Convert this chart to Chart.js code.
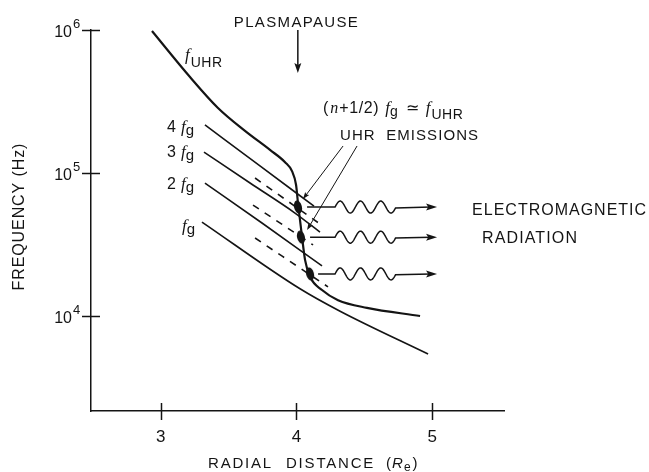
<!DOCTYPE html>
<html><head><meta charset="utf-8">
<script src="https://cdn.jsdelivr.net/npm/chart.js@4.4.0/dist/chart.umd.min.js"></script>
<style>html,body{margin:0;padding:0;background:#fff;}#wrap{width:649px;height:472px;}</style>
</head><body><div id="wrap"><canvas id="c" width="649" height="472"></canvas></div>
<script>
// ---------------- data ----------------
const xTicks = [3, 4, 5];
const yTicks = [1e4, 1e5, 1e6];
const yExpLabels = ['4', '5', '6'];

// upper hybrid resonance frequency f_UHR
const fUHR_x = [2.936, 3.216, 3.422, 3.621, 3.805, 3.916, 3.967, 3.997, 4.011, 4.041, 4.063, 4.100, 4.188, 4.306, 4.519, 4.910];
const fUHR_y = [984000, 469000, 285000, 197000, 145000, 119000, 103000, 82400, 61700, 35600, 24700, 18800, 15200, 12900, 11400, 10000];

// gyrofrequency harmonics
const fg1_x = [3.304, 4.026, 4.321, 4.969];
const fg1_y = [45400, 15500, 10800, 5420];
const fg2_x = [3.326, 3.746, 4.188];
const fg2_y = [85100, 44700, 22400];
const fg3_x = [3.319, 3.658, 3.989, 4.173];
const fg3_y = [140000, 85100, 52500, 38600];
const fg4_x = [3.326, 3.731, 4.129];
const fg4_y = [217000, 112000, 58700];

// (n+1/2) fg dashed lines
const h15_x = [3.695, 4.232];
const h15_y = [35100, 16000];
const h25_x = [3.680, 4.122];
const h25_y = [59700, 31400];
const h35_x = [3.695, 4.173];
const h35_y = [92300, 44000];

// UHR emission sources (where (n+1/2) fg = f_UHR)
const src_x = [4.011, 4.033, 4.100];
const src_y = [57800, 35600, 19700];
// start of each emitted-radiation arrow
const rad_x0 = [4.078, 4.100, 4.159];

// ---------------- styling / annotation layout ----------------
const INK = '#141414';
const SANS = '"Liberation Sans", Arial, sans-serif';
const SERIF = '"Liberation Serif", serif';
const ann = {
  waveStart: 4.284, waveEnd: 4.733, arrowEnd: 5.035,
  plasmapause: {x: 4.01, yTop: 1e6, yTip: 500000, textY: 1.05e6},
  pointers: [
    {x0: 4.343, y0: 154500, x1: 4.048, y1: 65800},
    {x0: 4.446, y0: 154500, x1: 4.078, y1: 39900}
  ],
  fuhrLabel: {x: 3.179, y: 616000},
  harm: [{n: '4', y: 194000}, {n: '3', y: 129000}, {n: '2', y: 77300}, {n: '', y: 39300}],
  harmX: 3.047,
  relLabel: {x: 4.195, y: 263000},
  emisLabel: {x: 4.321, y: 170000},
  emLabel: {x: 5.293, y: 50800},
  radLabel: {x: 5.366, y: 32400}
};

const mk = (xs, ys) => xs.map((v, i) => ({x: v, y: ys[i]}));

function blobImg() {
  const c = document.createElement('canvas');
  c.width = 12; c.height = 18;
  const g = c.getContext('2d');
  g.fillStyle = INK;
  g.beginPath();
  g.ellipse(6, 9, 3.9, 6.6, -0.25, 0, Math.PI * 2);
  g.fill();
  return c;
}

function fitText(ctx, s, x, y, font, width, align) {
  ctx.save();
  ctx.font = font;
  ctx.textBaseline = 'alphabetic';
  const w = ctx.measureText(s).width;
  let ls = 0;
  if (width && s.length > 1) ls = (width - w) / (s.length - 1);
  if ('letterSpacing' in ctx) ctx.letterSpacing = ls.toFixed(2) + 'px';
  const total = w + ls * (s.length - 1);
  let sx = x;
  if (align === 'center') sx = x - total / 2;
  else if (align === 'right') sx = x - total;
  ctx.textAlign = 'left';
  ctx.fillText(s, sx, y);
  ctx.restore();
}

// draws a sequence of styled pieces starting at x; returns end x
function rich(ctx, pieces, x, y) {
  ctx.save();
  ctx.textAlign = 'left'; ctx.textBaseline = 'alphabetic';
  let cx = x;
  pieces.forEach(p => {
    ctx.font = p.f;
    if ('letterSpacing' in ctx) ctx.letterSpacing = (p.ls || 0) + 'px';
    cx += (p.pre || 0);
    ctx.fillText(p.t, cx, y + (p.dy || 0));
    cx += ctx.measureText(p.t).width + (p.post || 0);
  });
  ctx.restore();
  return cx;
}

function arrowHead(ctx, x, y, ang, len, hw) {
  ctx.save();
  ctx.translate(x, y); ctx.rotate(ang);
  ctx.beginPath();
  ctx.moveTo(0, 0); ctx.lineTo(-len, -hw); ctx.lineTo(-len * 0.8, 0); ctx.lineTo(-len, hw);
  ctx.closePath(); ctx.fill();
  ctx.restore();
}

const deco = {
  id: 'deco',
  afterDatasetsDraw(chart) {
    const {ctx, chartArea: ca} = chart;
    const xs = chart.scales.x, ys = chart.scales.y;
    const X = v => xs.getPixelForValue(v), Y = v => ys.getPixelForValue(v);
    ctx.save();
    ctx.strokeStyle = INK; ctx.fillStyle = INK; ctx.lineCap = 'butt';

    // tick marks crossing the axes
    ctx.lineWidth = 1.5;
    xTicks.forEach(v => { const p = Math.round(X(v)) + 0.5; ctx.beginPath(); ctx.moveTo(p, ca.bottom - 8); ctx.lineTo(p, ca.bottom + 9); ctx.stroke(); });
    yTicks.forEach(v => { const p = Math.round(Y(v)) + 0.5; ctx.beginPath(); ctx.moveTo(ca.left - 9, p); ctx.lineTo(ca.left + 9, p); ctx.stroke(); });

    // tick labels
    xTicks.forEach(v => fitText(ctx, String(v), X(v), ca.bottom + 31, '17px ' + SANS, 0, 'center'));
    yTicks.forEach((v, i) => {
      const p = Y(v);
      fitText(ctx, '10', ca.left - 19, p + 7, '16px ' + SANS, 0, 'right');
      fitText(ctx, yExpLabels[i], ca.left - 18, p - 2, '13px ' + SANS, 0, 'left');
    });

    // axis titles
    rich(ctx, [
      {t: 'RADIAL', f: '15px ' + SANS, ls: 1.8, post: 13},
      {t: 'DISTANCE', f: '15px ' + SANS, ls: 1.8, post: 11},
      {t: '(', f: '15px ' + SANS, post: 1},
      {t: 'R', f: 'italic 15px ' + SANS, post: 1},
      {t: 'e', f: '12px ' + SANS, dy: 3, post: 2},
      {t: ')', f: '15px ' + SANS}
    ], 208, ca.bottom + 57);
    ctx.save();
    ctx.translate(24, 217); ctx.rotate(-Math.PI / 2);
    fitText(ctx, 'FREQUENCY (Hz)', 0, 0, '16px ' + SANS, 147, 'center');
    ctx.restore();

    // plasmapause marker
    const pp = ann.plasmapause;
    const ppx = X(pp.x);
    ctx.lineWidth = 1.5;
    ctx.beginPath(); ctx.moveTo(ppx, Y(pp.yTop)); ctx.lineTo(ppx, Y(pp.yTip) - 6); ctx.stroke();
    arrowHead(ctx, ppx, Y(pp.yTip), Math.PI / 2, 10, 3.5);
    fitText(ctx, 'PLASMAPAUSE', ppx - 2, Y(pp.textY), '15px ' + SANS, 124, 'center');

    // wavy emission arrows
    src_y.forEach((v, i) => {
      const yy = Y(v);
      const x0 = X(rad_x0[i]), w0 = X(ann.waveStart), w1 = X(ann.waveEnd), x1 = X(ann.arrowEnd);
      ctx.lineWidth = 1.5;
      ctx.beginPath();
      ctx.moveTo(x0, yy); ctx.lineTo(w0, yy);
      const per = (w1 - w0) / 3, amp = 6;
      for (let t = w0; t <= w1; t += 0.5) ctx.lineTo(t, yy - amp * Math.sin(2 * Math.PI * (t - w0) / per));
      ctx.lineTo(x1 - 6, yy);
      ctx.stroke();
      arrowHead(ctx, x1, yy, 0, 11, 3.5);
    });

    // pointers from "UHR EMISSIONS"
    ctx.lineWidth = 1;
    ann.pointers.forEach(p => {
      const ax = X(p.x0), ay = Y(p.y0), bx = X(p.x1), by = Y(p.y1);
      const ang = Math.atan2(by - ay, bx - ax);
      ctx.beginPath(); ctx.moveTo(ax, ay); ctx.lineTo(bx - 4 * Math.cos(ang), by - 4 * Math.sin(ang)); ctx.stroke();
      arrowHead(ctx, bx, by, ang, 7, 2.5);
    });

    // curve labels
    const fl = ann.fuhrLabel;
    rich(ctx, [
      {t: 'f', f: 'italic 17px ' + SERIF, post: 1},
      {t: 'UHR', f: '14px ' + SANS, dy: 7, ls: 0.5}
    ], X(fl.x), Y(fl.y));
    ann.harm.forEach(h => {
      const hx = X(ann.harmX), hy = Y(h.y);
      const pieces = [];
      if (h.n) pieces.push({t: h.n, f: '16px ' + SANS, post: 5});
      else pieces.push({t: '', f: '16px ' + SANS, pre: 15});
      pieces.push({t: 'f', f: 'italic 17px ' + SERIF, post: 0});
      pieces.push({t: 'g', f: '15px ' + SANS, dy: 3});
      rich(ctx, pieces, hx, hy);
    });
    const rl = ann.relLabel;
    rich(ctx, [
      {t: '(', f: '16px ' + SANS, post: 2},
      {t: 'n', f: 'italic 16px ' + SERIF, post: 1},
      {t: '+1/2)', f: '16px ' + SANS, ls: 0.6, post: 6},
      {t: 'f', f: 'italic 17px ' + SERIF, post: 0},
      {t: 'g', f: '14px ' + SANS, dy: 3, post: 8},
      {t: '≃', f: '16px ' + SANS, post: 7},
      {t: 'f', f: 'italic 17px ' + SERIF, post: 1},
      {t: 'UHR', f: '14px ' + SANS, dy: 6, ls: 0.5}
    ], X(rl.x), Y(rl.y));
    fitText(ctx, 'UHR  EMISSIONS', X(ann.emisLabel.x), Y(ann.emisLabel.y), '15px ' + SANS, 138, 'left');
    fitText(ctx, 'ELECTROMAGNETIC', X(ann.emLabel.x), Y(ann.emLabel.y), '16px ' + SANS, 174, 'left');
    fitText(ctx, 'RADIATION', X(ann.radLabel.x), Y(ann.radLabel.y), '16px ' + SANS, 95, 'left');

    ctx.restore();
  }
};

const line = (xs, ysArr, w, dash) => ({
  data: mk(xs, ysArr), showLine: true, borderColor: INK, borderWidth: w,
  borderDash: dash || [], pointRadius: 0, cubicInterpolationMode: 'monotone', fill: false
});

new Chart(document.getElementById('c').getContext('2d'), {
  type: 'scatter',
  data: {
    datasets: [
      line(fUHR_x, fUHR_y, 2.2),
      line(fg4_x, fg4_y, 1.6),
      line(fg3_x, fg3_y, 1.6),
      line(fg2_x, fg2_y, 1.6),
      line(fg1_x, fg1_y, 1.6),
      line(h35_x, h35_y, 1.6, [7, 7]),
      line(h25_x, h25_y, 1.6, [7, 7]),
      line(h15_x, h15_y, 1.6, [7, 7]),
      {data: mk(src_x, src_y), showLine: false, pointStyle: blobImg(), pointRadius: 6,
       backgroundColor: INK, borderColor: INK}
    ]
  },
  options: {
    responsive: false, animation: false, devicePixelRatio: 1,
    layout: {padding: {left: 91, top: 30, right: 145, bottom: 61}},
    plugins: {legend: {display: false}, tooltip: {enabled: false}},
    scales: {
      x: {type: 'linear', min: 2.487, max: 5.528,
          grid: {display: false, drawTicks: false, tickLength: 0},
          border: {display: true, color: INK, width: 1.5},
          ticks: {display: false}},
      y: {type: 'logarithmic', min: 2167, max: 1e6,
          grid: {display: false, drawTicks: false, tickLength: 0},
          border: {display: true, color: INK, width: 1.5},
          ticks: {display: false}}
    }
  },
  plugins: [deco]
});
</script></body></html>
